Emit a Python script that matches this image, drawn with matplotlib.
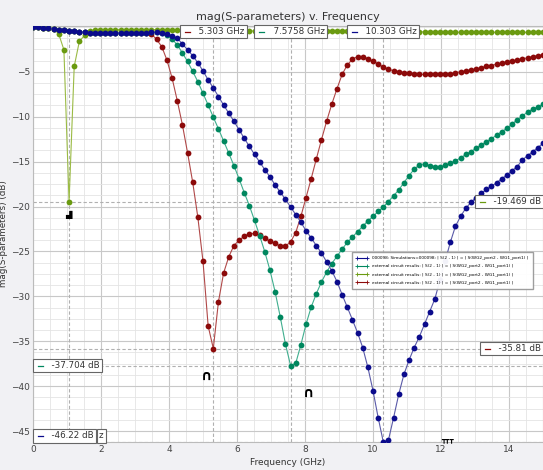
import numpy as np
import matplotlib
matplotlib.use("Agg")
import matplotlib.pyplot as plt
from matplotlib.ticker import MultipleLocator
from matplotlib.lines import Line2D
from matplotlib import transforms

# ---------------- data ----------------
freq = np.linspace(0.0, 15.0, 100)   # sweep frequencies (GHz)

s21_sim = [0.0, -0.05, -0.1, -0.15, -0.2, -0.3, -0.35, -0.45, -0.5, -0.55, -0.6,
           -0.65, -0.7, -0.7, -0.7, -0.7, -0.7, -0.7, -0.7, -0.7, -0.7, -0.7, -0.65, -0.6, -0.6, -0.65, -0.75,
           -1.0, -1.26, -1.9, -2.55, -3.2, -4.0, -4.9, -5.9, -6.8, -7.75, -8.7, -9.6, -10.5, -11.45,
           -12.4, -13.3, -14.2, -15.05, -15.9, -16.7, -17.6, -18.4, -19.2,
           -20.05, -20.9, -21.75, -22.7, -23.5, -24.35, -25.2, -26.15, -27.15, -28.35, -29.8, -31.2, -32.6,
           -34.05, -35.7, -37.9, -40.5, -43.5, -46.22, -46.0, -43.5, -40.9, -38.7, -37.1, -35.7, -34.5,
           -33.1, -31.7, -30.3, -28.2, -26.1, -24.0, -22.2, -21.1, -20.2,
           -19.55, -19.0, -18.55, -18.1, -17.75, -17.35, -16.9, -16.5, -16.0, -15.55, -14.8, -14.35,
           -13.9, -13.45, -12.95]

s21_ext_teal = [0.0, -0.05, -0.1, -0.15, -0.2, -0.3, -0.35, -0.45, -0.5, -0.55, -0.6,
                -0.65, -0.7, -0.7, -0.7, -0.7, -0.7, -0.7, -0.7, -0.7, -0.7, -0.7, -0.65, -0.6, -0.6, -0.65,
                -0.9, -1.35, -2.0, -2.9, -3.85, -4.95, -6.1, -7.4, -8.7, -10.05, -11.35, -12.7, -14.05,
                -15.45, -16.9, -18.45, -19.9, -21.55, -23.25, -25.05, -27.1, -29.5, -32.3, -35.3,
                -37.704, -37.45, -35.4, -33.1, -31.2, -29.7, -28.4, -27.3, -26.35, -25.55, -24.75, -24.0,
                -23.4, -22.8, -22.2, -21.6, -21.1, -20.55, -20.05, -19.45, -18.8, -18.15, -17.35, -16.55,
                -15.85, -15.35, -15.25, -15.45, -15.55, -15.6, -15.4, -15.2, -14.9, -14.6, -14.2, -13.9,
                -13.5, -13.15, -12.8, -12.45, -12.05, -11.65, -11.3, -10.8, -10.35,
                -9.9, -9.5, -9.15, -8.9, -8.6]

s21_ext_olive = [0.0, -0.05, -0.1, -0.15, -0.2, -0.8, -2.55, -19.469, -4.4, -1.6, -0.95, -0.5, -0.35,
                 -0.3, -0.3, -0.3, -0.3, -0.3, -0.3, -0.3, -0.3, -0.3, -0.3, -0.3, -0.3, -0.3, -0.3,
                 -0.3, -0.3, -0.3, -0.3,
                 -0.35, -0.35, -0.35, -0.35, -0.4, -0.4, -0.4, -0.4, -0.4, -0.45, -0.45, -0.45, -0.45,
                 -0.45, -0.45, -0.5, -0.5, -0.5, -0.5, -0.5, -0.5, -0.5, -0.5, -0.5, -0.5,
                 -0.5, -0.5, -0.5, -0.5, -0.5, -0.5, -0.55, -0.55, -0.55, -0.55, -0.55, -0.55, -0.55,
                 -0.55, -0.55, -0.55, -0.55, -0.55, -0.55, -0.55, -0.55, -0.55, -0.55, -0.55, -0.55,
                 -0.6, -0.6, -0.6, -0.6, -0.6, -0.6, -0.6, -0.6, -0.6, -0.6, -0.6, -0.6, -0.6, -0.6,
                 -0.6, -0.6, -0.6, -0.6, -0.6]

s21_ext_red = [0.0, -0.05, -0.1, -0.15, -0.2, -0.3, -0.35, -0.45, -0.5, -0.55, -0.6,
               -0.65, -0.7, -0.7, -0.7, -0.7, -0.7, -0.7, -0.7, -0.7, -0.7, -0.7, -0.65,
               -0.8, -1.4, -2.2, -3.7, -5.7, -8.2, -10.9, -14.0, -17.3,
               -21.2, -26.1, -33.3, -35.81, -30.6, -27.4, -25.6, -24.35, -23.75, -23.3, -23.05, -23.0,
               -23.2, -23.55, -23.85, -24.1, -24.4, -24.4, -23.95, -22.9, -21.1, -19.0, -16.9,
               -14.7, -12.55, -10.5, -8.6, -6.9, -5.3, -4.25, -3.6, -3.3, -3.3, -3.55, -3.85, -4.1,
               -4.5, -4.7, -4.9, -4.97, -5.08,
               -5.15, -5.2, -5.25, -5.3, -5.3, -5.3, -5.3, -5.25, -5.2, -5.1, -5.0, -4.9, -4.8, -4.7,
               -4.55, -4.4, -4.3, -4.15, -4.0, -3.9, -3.8, -3.7, -3.55, -3.45, -3.3, -3.2, -3.1]

legend_labels = [
    "000098: Simulations=000098: | S(2 , 1) | = | S(WG2_port2 , WG1_port1) |",
    "external circuit results: | S(2 , 1) | = | S(WG2_port2 , WG1_port1) |",
    "external circuit results: | S(2 , 1) | = | S(WG2_port2 , WG1_port1) |",
    "external circuit results: | S(2 , 1) | = | S(WG2_port2 , WG1_port1) |",
]
series = [s21_sim, s21_ext_teal, s21_ext_olive, s21_ext_red]
marker_colors = ["#0b0b8c", "#00875f", "#6a9a10", "#8c0a0a"]
line_colors = ["#5a5aa8", "#3fae8e", "#9bbb45", "#b04848"]
zorders = [6, 4, 5, 3]

# marker readouts
vmark_freqs = [5.303, 7.5758, 10.303]
vmark_labels = ["5.303 GHz", "7.5758 GHz", "10.303 GHz"]
vmark_colors = ["#8c0a0a", "#00875f", "#0b0b8c"]
olive_dip_freq = 1.0606
hmark_vals = [-19.469, -35.81, -37.704, -46.22]
hmark_labels = ["-19.469 dB", "-35.81 dB", "-37.704 dB", "-46.22 dB"]
hmark_colors = ["#6a9a10", "#8c0a0a", "#00875f", "#0b0b8c"]
hmark_side = ["right", "right", "left", "left"]

# ---------------- figure ----------------
fig = plt.figure(figsize=(5.43, 4.70), dpi=100, facecolor="#f1f1f4")
ax = fig.add_axes([33 / 543, 28 / 470, 510 / 543, 416 / 470])
ax.set_facecolor("white")
ax.set_xlim(0, 15)
ax.set_ylim(-46.22, 0.1)

ax.xaxis.set_major_locator(MultipleLocator(2))
ax.xaxis.set_minor_locator(MultipleLocator(0.5))
ax.set_yticks([-5, -10, -15, -20, -25, -30, -35, -40, -45])
ax.yaxis.set_minor_locator(MultipleLocator(1.25))
ax.grid(which="major", color="#c8c8c8", lw=0.8)
ax.grid(which="minor", color="#e4e4e4", lw=0.6)
ax.set_axisbelow(True)
ax.tick_params(which="both", length=0, labelsize=6.5, labelcolor="#444444", pad=2)
for s in ax.spines.values():
    s.set_color("#bbbbbb")
    s.set_linewidth(0.8)

for vals, mc, lc, z in zip(series, marker_colors, line_colors, zorders):
    ax.plot(freq, vals, color=lc, lw=0.8, zorder=z)
    ax.plot(freq, vals, ls="none", marker="o", ms=4.2, mew=0, color=mc, zorder=z + 0.5)

# dashed marker lines
for fx in [olive_dip_freq] + vmark_freqs:
    ax.axvline(fx, color="#b0b0b0", lw=0.8, ls=(0, (3, 2)), zorder=2)
for hv in hmark_vals:
    ax.axhline(hv, color="#b0b0b0", lw=0.8, ls=(0, (3, 2)), zorder=2)

ax.set_title("mag(S-parameters) v. Frequency", fontsize=8, color="#333333", pad=4)
ax.set_xlabel("Frequency (GHz)", fontsize=6.5, color="#333333", labelpad=3)
ax.set_ylabel("mag(S-parameters) (dB)", fontsize=6.3, color="#333333")
ax.yaxis.set_label_coords(-25 / 510, 0.5)

handles = [Line2D([], [], color=c, lw=0.8, marker="+", ms=3, mew=0.6) for c in marker_colors]
leg = ax.legend(handles, legend_labels, loc="upper left", bbox_to_anchor=(0.625, 0.457),
                fontsize=3.05, frameon=True, fancybox=False, edgecolor="#999999",
                framealpha=0.95, handlelength=3.0, numpoints=2, borderaxespad=0,
                labelspacing=1.0, borderpad=1.0, handletextpad=0.8)
leg.set_zorder(20)

# readout boxes
box = dict(boxstyle="square,pad=0.25", fc="white", ec="#666666", lw=0.8)
bt = transforms.blended_transform_factory(ax.transData, ax.transAxes)
txts = []
for fx, lab, col in zip(vmark_freqs, vmark_labels, vmark_colors):
    t = ax.text(fx, 0.997, "      " + lab, transform=bt, ha="center", va="top",
                fontsize=6.3, color="#333333", bbox=box, zorder=30)
    txts.append((t, col))
for hv, lab, col, side in zip(hmark_vals, hmark_labels, hmark_colors, hmark_side):
    bt2 = transforms.blended_transform_factory(ax.transAxes, ax.transData)
    xx = 0.997 if side == "right" else 0.004
    va = "center"
    yy = hv
    if hv < -45.5:
        bt2 = ax.transAxes
        yy = 0.004
        va = "bottom"
    t = ax.text(xx, yy, "      " + lab, transform=bt2, ha=side, va=va,
                fontsize=6.3, color="#333333", bbox=box, zorder=31)
    txts.append((t, col))

# marker glyphs
ax.text(1.03, -20.9, "\u259f", fontsize=6, color="black", ha="center", va="center", zorder=40)
ax.text(5.1, -38.9, "\u2229", fontsize=10, fontweight="bold", color="black", ha="center", va="center", zorder=40)
ax.text(8.1, -40.8, "\u2229", fontsize=10, fontweight="bold", color="black", ha="center", va="center", zorder=40)
ax.text(12.2, -46.0, "\u2533\u2533\u2533", fontsize=5, fontweight="bold", color="black",
        ha="center", va="center", zorder=40, clip_on=False)

fig.canvas.draw()
r = fig.canvas.get_renderer()
W, H = fig.bbox.width, fig.bbox.height
for t, col in txts:
    bb = t.get_bbox_patch().get_window_extent(r)
    yc = (bb.y0 + bb.y1) / 2 / H
    fig.add_artist(Line2D([(bb.x0 + 5) / W, (bb.x0 + 10) / W], [yc, yc], color=col, lw=0.9,
                          transform=fig.transFigure, zorder=t.get_zorder() + 1))

# remnant of the covered 1.0606 GHz readout box, just right of the -46.22 dB box
bb46 = txts[-1][0].get_bbox_patch().get_window_extent(r)
fig.text((bb46.x1 + 3) / W, (bb46.y0 + bb46.y1) / 2 / H, "z", fontsize=6.3, color="#333333",
         ha="left", va="center",
         bbox=dict(boxstyle="square,pad=0.25", fc="white", ec="#666666", lw=0.8), zorder=28)

fig.savefig("out.png", dpi=100, facecolor=fig.get_facecolor())
